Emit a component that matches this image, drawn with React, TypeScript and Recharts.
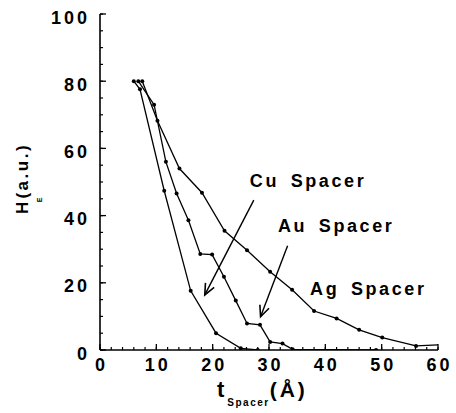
import { LineChart, Line, XAxis, YAxis, ReferenceLine, ReferenceDot } from 'recharts';

// spacer thickness (Å) and exchange field H_E (a.u.)
const cuT = [6, 7.1, 11.4, 16.1, 20.6, 25, 28];
const cuH = [80, 77.6, 47.4, 17.6, 5.0, 0.5, 0];
const auT = [6.8, 9.6, 11.7, 13.6, 15.7, 17.8, 19.9, 22, 24.1, 26.1, 28.4, 30.2, 32.4, 34.2, 49];
const auH = [80, 73, 56, 46.6, 38.6, 28.6, 28.4, 21.8, 14.7, 7.9, 7.5, 2.4, 1.9, 0.2, 0];
const agT = [7.5, 10.2, 14.1, 18.1, 22.1, 26.1, 30.2, 34.1, 38, 42, 46, 50.1, 56.1, 60];
const agH = [80, 68.2, 54, 46.8, 35.5, 29.7, 23.3, 17.9, 11.6, 9.4, 6.0, 3.7, 1.2, 1.5];

const xTicks = [0, 2, 4, 6, 8, 10, 12, 14, 16, 18, 20, 22, 24, 26, 28, 30, 32, 34, 36, 38, 40, 42, 44, 46, 48, 50, 52, 54, 56, 58, 60];
const xLabels = [0, 10, 20, 30, 40, 50, 60];
const yTicks = [0, 5, 10, 15, 20, 25, 30, 35, 40, 45, 50, 55, 60, 65, 70, 75, 80, 85, 90, 95, 100];
const yLabels = [0, 20, 40, 60, 80, 100];

// annotation text and arrows [fromT, fromH, toT, toH]
const labels = [
  { text: 'Cu Spacer', t: 26.6, h: 48.6 },
  { text: 'Au Spacer', t: 31.6, h: 35.2 },
  { text: 'Ag Spacer', t: 37.3, h: 16.4 },
];
const arrows = [
  [27.3, 44.6, 18.6, 16.4],
  [33.3, 31.0, 28.5, 9.9],
];

const toPoints = (t: number[], h: number[]) => t.map((v, i) => ({ t: v, h: h[i] }));
const cuData = toPoints(cuT, cuH);
const auData = toPoints(auT, auH);
const agData = toPoints(agT, agH);

const FONT = '"Liberation Sans", Arial, Helvetica, sans-serif';
const MINOR = 3;
const MAJOR = 6;

const BottomTick = (props: any) => {
  const { x, y, payload } = props;
  const major = xLabels.includes(payload.value);
  return (
    <g>
      {major && <path d={`M${x},${y}V${y - MAJOR}`} stroke="#000" strokeWidth={1.3} fill="none" />}
      {major && (
        <text x={x + 1.5} y={y + 21} textAnchor="middle" fontFamily={FONT} fontWeight="bold" fontSize={18} letterSpacing={3} fill="#000">
          {payload.value}
        </text>
      )}
    </g>
  );
};

const TopTick = (props: any) => {
  const { x, y, payload } = props;
  const major = xLabels.includes(payload.value);
  return <g>{major && <path d={`M${x},${y}V${y + MAJOR}`} stroke="#000" strokeWidth={1.3} fill="none" />}</g>;
};

const LeftTick = (props: any) => {
  const { x, y, payload } = props;
  const major = yLabels.includes(payload.value);
  return (
    <g>
      {major && <path d={`M${x},${y}H${x + MAJOR}`} stroke="#000" strokeWidth={1.3} fill="none" />}
      {major && (
        <text x={x - 10} y={y + 9.5} textAnchor="end" fontFamily={FONT} fontWeight="bold" fontSize={18} letterSpacing={3} fill="#000">
          {payload.value}
        </text>
      )}
    </g>
  );
};

const RightTick = (props: any) => {
  const { x, y, payload } = props;
  const major = yLabels.includes(payload.value);
  return <g>{major && <path d={`M${x},${y}H${x - MAJOR}`} stroke="#000" strokeWidth={1.3} fill="none" />}</g>;
};

const Arrow = (props: any) => {
  const { x1, y1, x2, y2 } = props;
  const a = Math.atan2(y2 - y1, x2 - x1);
  const len = 12;
  const spread = 0.42;
  return (
    <g>
      <line x1={x1} y1={y1} x2={x2} y2={y2} stroke="#000" strokeWidth={1.4} />
      <polyline
        points={`${x2 - len * Math.cos(a - spread)},${y2 - len * Math.sin(a - spread)} ${x2},${y2} ${x2 - len * Math.cos(a + spread)},${y2 - len * Math.sin(a + spread)}`}
        fill="none"
        stroke="#000"
        strokeWidth={1.6}
      />
    </g>
  );
};

const dotFor = (last: number) => (p: any) =>
  p.index === last ? <g key={p.key} /> : <circle key={p.key} cx={p.cx} cy={p.cy} r={2} fill="#000" />;

const axisLine = { stroke: '#000', strokeWidth: 1.6 };
const tickLine = { stroke: '#000', strokeWidth: 1.2 };

export default function App() {
  return (
    <div style={{ position: 'absolute', left: 0, top: 0, background: '#fff' }}>
      <LineChart width={456} height={413} margin={{ top: 14, right: 18, left: 0, bottom: 0 }}>
        <XAxis
          xAxisId="bottom"
          dataKey="t"
          type="number"
          domain={[0, 60]}
          ticks={xTicks}
          interval={0}
          height={63}
          tickSize={-MINOR}
          tickMargin={MINOR}
          tickLine={tickLine}
          tick={<BottomTick />}
          axisLine={axisLine}
          allowDataOverflow
        />
        <XAxis
          xAxisId="top"
          orientation="top"
          type="number"
          domain={[0, 60]}
          ticks={xTicks}
          interval={0}
          height={0}
          tickSize={-MINOR}
          tickMargin={MINOR}
          tickLine={tickLine}
          tick={<TopTick />}
          axisLine={axisLine}
          allowDataOverflow
        />
        <YAxis
          yAxisId="left"
          type="number"
          domain={[0, 100]}
          ticks={yTicks}
          interval={0}
          width={100}
          tickSize={-MINOR}
          tickMargin={MINOR}
          tickLine={tickLine}
          tick={<LeftTick />}
          axisLine={axisLine}
          allowDataOverflow
        />
        <YAxis
          yAxisId="right"
          orientation="right"
          type="number"
          domain={[0, 100]}
          ticks={yTicks}
          interval={0}
          width={0}
          tickSize={-MINOR}
          tickMargin={MINOR}
          tickLine={tickLine}
          tick={<RightTick />}
          axisLine={axisLine}
          allowDataOverflow
        />
        <Line xAxisId="bottom" yAxisId="left" data={cuData} dataKey="h" stroke="#000" strokeWidth={1.3} dot={dotFor(-1)} isAnimationActive={false} />
        <Line xAxisId="bottom" yAxisId="left" data={auData} dataKey="h" stroke="#000" strokeWidth={1.3} dot={dotFor(-1)} isAnimationActive={false} />
        <Line xAxisId="bottom" yAxisId="left" data={agData} dataKey="h" stroke="#000" strokeWidth={1.3} dot={dotFor(agT.length - 1)} isAnimationActive={false} />
        {arrows.map((a, i) => (
          <ReferenceLine
            key={'arrow' + i}
            xAxisId="bottom"
            yAxisId="left"
            segment={[{ x: a[0], y: a[1] }, { x: a[2], y: a[3] }]}
            shape={<Arrow />}
            ifOverflow="visible"
          />
        ))}
        {labels.map((l) => (
          <ReferenceDot
            key={l.text}
            xAxisId="bottom"
            yAxisId="left"
            x={l.t}
            y={l.h}
            r={0}
            ifOverflow="visible"
            shape={(p: any) => (
              <text x={p.cx} y={p.cy} fontFamily={FONT} fontWeight="bold" fontSize={18} letterSpacing={2.6} wordSpacing={4} fill="#000">
                {l.text}
              </text>
            )}
          />
        ))}
        <text x={28} y={214} transform="rotate(-90 28 214)" fontFamily={FONT} fontWeight="bold" fontSize={17} letterSpacing={2.5} fill="#000">
          H
          <tspan fontSize={7} dx={-3} dy={14} letterSpacing={1}>E</tspan>
          <tspan dx={-2} dy={-14}>(a.u.)</tspan>
        </text>
        <text x={217} y={397} fontFamily={FONT} fontWeight="bold" fontSize={22} fill="#000">
          t
          <tspan fontSize={10} letterSpacing={1.5} dx={3} dy={9}>Spacer</tspan>
          <tspan fontSize={21} letterSpacing={3} dx={0} dy={-9}>(Å)</tspan>
        </text>
      </LineChart>
    </div>
  );
}
